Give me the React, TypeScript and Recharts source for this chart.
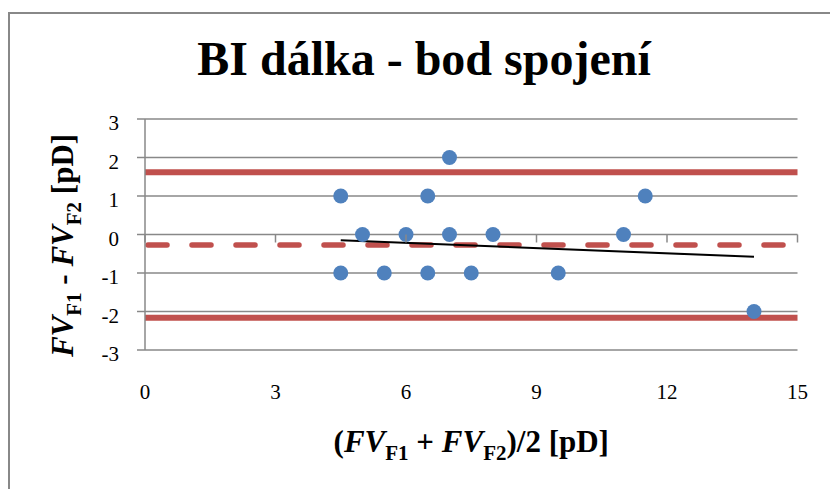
import React from "react";
import {
  ComposedChart,
  Scatter,
  XAxis,
  YAxis,
  CartesianGrid,
  ReferenceLine,
} from "recharts";

// Bland-Altman: mean of both measurements vs difference
const meanValues = [4.5, 4.5, 5, 5.5, 6, 6.5, 6.5, 7, 7, 7.5, 8, 9.5, 11, 11.5, 14];
const diffValues = [1, -1, 0, -1, 0, 1, -1, 2, 0, -1, 0, -1, 0, 1, -2];

const bias = -0.27;
const upperLimit = 1.62;
const lowerLimit = -2.16;

// linear trend of the differences
const trendX = [4.5, 14];
const trendY = [-0.15, -0.58];

const xTicks = [0, 3, 6, 9, 12, 15];
const yTicks = [-3, -2, -1, 0, 1, 2, 3];

const points = meanValues.map((x, i) => ({ x, y: diffValues[i] }));

const W = 830;
const H = 489;
const PLOT_TOP = 119;
const PLOT_BOTTOM = 350;
const PLOT_LEFT = 145;
const PLOT_RIGHT = 797.5;
const ZERO_Y = (PLOT_TOP + PLOT_BOTTOM) / 2;

const FONT = "'Liberation Serif', 'Times New Roman', serif";
const GRAY = "#888888";
const RED = "#C0504D";
const BLUE = "#4F81BD";

const tickStyle = { fontFamily: FONT, fontSize: 21, fill: "#000" };
const labelStyle = { fontFamily: FONT, fontSize: 31, fontWeight: "bold" as const, fill: "#000" };

const XTick = (p: any) => (
  <g>
    <line x1={p.x} x2={p.x} y1={ZERO_Y} y2={ZERO_Y + 8} stroke={GRAY} strokeWidth={1.5} />
    <text x={p.x} y={PLOT_BOTTOM + 49} textAnchor="middle" style={tickStyle}>
      {p.payload.value}
    </text>
  </g>
);

const YTick = (p: any) => (
  <text x={p.x} y={p.y + 4} dy="0.355em" textAnchor="end" style={tickStyle}>
    {p.payload.value}
  </text>
);

const Dot = (p: any) => <circle cx={p.cx} cy={p.cy} r={7.5} fill={BLUE} />;

const XLabel = (p: any) => {
  const vb = p.viewBox;
  return (
    <text x={vb.x + vb.width / 2} y={452} textAnchor="middle" style={labelStyle}>
      (<tspan style={{ fontStyle: "italic" }}>FV</tspan>
      <tspan style={{ fontSize: 21 }} dy={8}>F1</tspan>
      <tspan dy={-8}> + </tspan>
      <tspan style={{ fontStyle: "italic" }}>FV</tspan>
      <tspan style={{ fontSize: 21 }} dy={8}>F2</tspan>
      <tspan dy={-8}>)/2 [pD]</tspan>
    </text>
  );
};

const YLabel = (p: any) => {
  const vb = p.viewBox;
  const cy = vb.y + vb.height / 2 + 11;
  const cx = 73;
  return (
    <text x={cx} y={cy} transform={`rotate(-90, ${cx}, ${cy})`} textAnchor="middle" style={labelStyle}>
      <tspan style={{ fontStyle: "italic" }}>FV</tspan>
      <tspan style={{ fontSize: 21 }} dy={8}>F1</tspan>
      <tspan dy={-8}> - </tspan>
      <tspan style={{ fontStyle: "italic" }}>FV</tspan>
      <tspan style={{ fontSize: 21 }} dy={8}>F2</tspan>
      <tspan dy={-8}> [pD]</tspan>
    </text>
  );
};

export default function App() {
  return (
    <div
      style={{
        position: "absolute",
        left: 0,
        top: 0,
        width: W,
        height: H,
        overflow: "hidden",
        background: "#fff",
      }}
    >
      <div
        style={{
          position: "absolute",
          left: 8,
          top: 12,
          width: 840,
          height: 500,
          border: `2px solid ${GRAY}`,
        }}
      />
      <div
        style={{
          position: "absolute",
          left: 8,
          top: 35,
          width: 832,
          textAlign: "center",
          fontFamily: FONT,
          fontWeight: "bold",
          fontSize: 48,
          lineHeight: "48px",
          whiteSpace: "nowrap",
        }}
      >
        BI dálka - bod spojení
      </div>
      <div style={{ position: "absolute", left: 0, top: 0 }}>
        <ComposedChart
          width={W}
          height={H}
          margin={{ top: PLOT_TOP, right: W - PLOT_RIGHT, bottom: H - PLOT_BOTTOM - 40, left: PLOT_LEFT - 60 }}
        >
          <CartesianGrid vertical={false} stroke={GRAY} strokeWidth={1.5} />
          <XAxis
            type="number"
            dataKey="x"
            domain={[0, 15]}
            ticks={xTicks}
            height={40}
            axisLine={false}
            tickLine={false}
            tick={<XTick />}
            label={<XLabel />}
            interval={0}
          />
          <YAxis
            type="number"
            dataKey="y"
            domain={[-3, 3]}
            ticks={yTicks}
            width={60}
            axisLine={{ stroke: GRAY, strokeWidth: 1.5 }}
            tickLine={{ stroke: GRAY, strokeWidth: 1.5 }}
            tickSize={8}
            tickMargin={18}
            tick={<YTick />}
            label={<YLabel />}
            interval={0}
          />
          <Scatter data={points} shape={<Dot />} isAnimationActive={false} />
          <ReferenceLine y={upperLimit} stroke={RED} strokeWidth={6} />
          <ReferenceLine y={lowerLimit} stroke={RED} strokeWidth={6} />
          <ReferenceLine
            y={bias}
            stroke={RED}
            strokeWidth={5.5}
            strokeDasharray="19 25"
            strokeLinecap="round"
            strokeDashoffset={-3}
          />
          <ReferenceLine
            segment={[
              { x: trendX[0], y: trendY[0] },
              { x: trendX[1], y: trendY[1] },
            ]}
            stroke="#000"
            strokeWidth={2}
          />
        </ComposedChart>
      </div>
    </div>
  );
}
